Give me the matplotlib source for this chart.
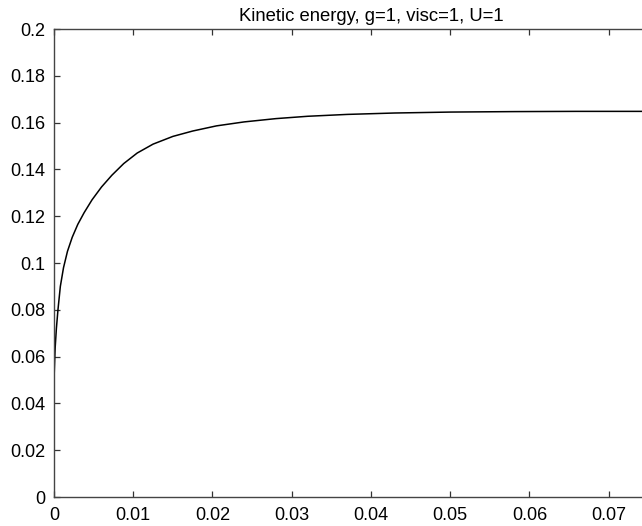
import matplotlib
matplotlib.use("Agg")
import matplotlib.pyplot as plt

plt.rcParams['font.family'] = ['Liberation Sans', 'DejaVu Sans']

# kinetic energy history, g=1, visc=1, U=1
t = [0, 0.00005, 0.00015, 0.0003, 0.0005, 0.0008, 0.0012, 0.0017,
     0.0023, 0.003, 0.0038, 0.0048, 0.006, 0.0073, 0.0088, 0.0105,
     0.0125, 0.015, 0.0175, 0.0205, 0.024, 0.028, 0.032, 0.037,
     0.043, 0.05, 0.058, 0.066, 0.074, 0.08]
ke = [0.050, 0.055, 0.064, 0.072, 0.080, 0.090, 0.098, 0.105,
      0.111, 0.1165, 0.1215, 0.127, 0.1325, 0.1375, 0.1425, 0.147,
      0.1508, 0.1541, 0.1564, 0.1586, 0.1603, 0.1617, 0.1627, 0.1635,
      0.1641, 0.1645, 0.1647, 0.1648, 0.1648, 0.1648]

xticks = [0, 0.01, 0.02, 0.03, 0.04, 0.05, 0.06, 0.07]
yticks = [0, 0.02, 0.04, 0.06, 0.08, 0.1, 0.12, 0.14, 0.16, 0.18, 0.2]

fig = plt.figure(figsize=(6.42, 5.26), dpi=100)
# axes run past the right edge of the figure
ax = fig.add_axes([54/642, 29/526, 634/642, 468/526])

ax.plot(t, ke, color='black', lw=1.1)

ax.set_xlim(0, 0.08)
ax.set_ylim(0, 0.2)
ax.set_xticks(xticks)
ax.set_xticklabels(['0', '0.01', '0.02', '0.03', '0.04', '0.05', '0.06', '0.07'])
ax.set_yticks(yticks)
ax.set_yticklabels(['0', '0.02', '0.04', '0.06', '0.08', '0.1', '0.12',
                    '0.14', '0.16', '0.18', '0.2'])
ax.tick_params(direction='in', top=True, right=True, length=4, width=0.9,
               colors='#333333', labelcolor='black', labelsize=13)
ax.tick_params(axis='y', pad=6)
ax.tick_params(axis='x', pad=7)
for s in ax.spines.values():
    s.set_color('#444444')
    s.set_linewidth(1.0)

ax.set_title('Kinetic energy, g=1, visc=1, U=1', fontsize=13.3, pad=6)

fig.savefig('out.png', dpi=100)
